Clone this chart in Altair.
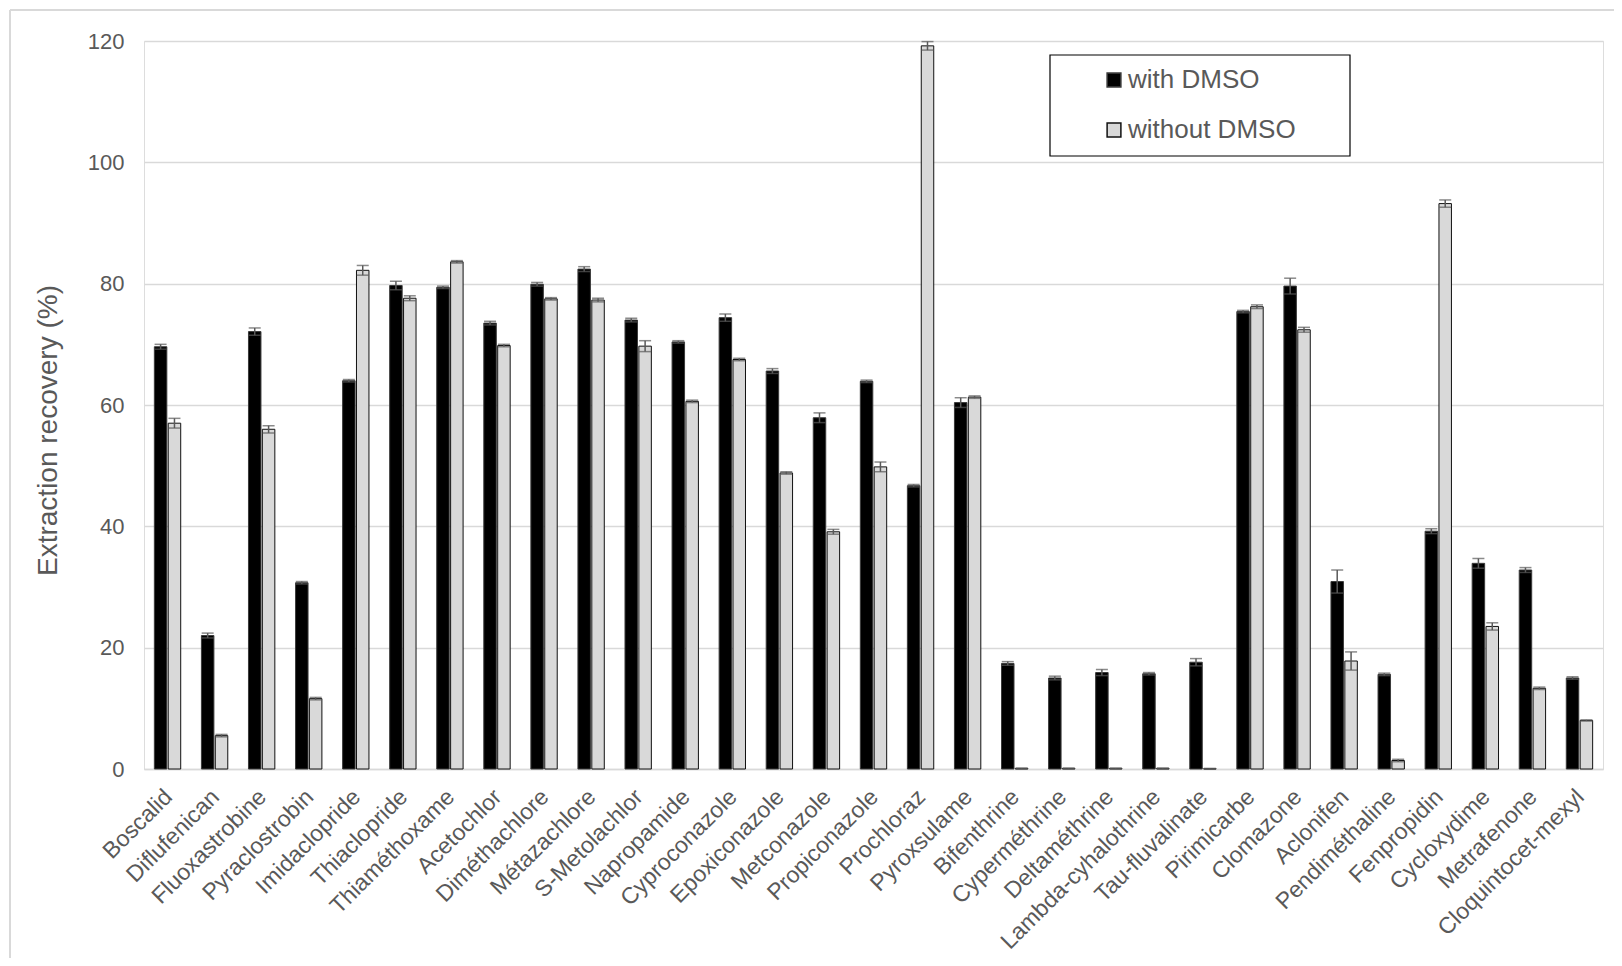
import altair as alt
import pandas as pd

categories = ["Boscalid", "Diflufenican", "Fluoxastrobine", "Pyraclostrobin", "Imidaclopride",
              "Thiaclopride", "Thiaméthoxame", "Acetochlor", "Diméthachlore", "Métazachlore",
              "S-Metolachlor", "Napropamide", "Cyproconazole", "Epoxiconazole", "Metconazole",
              "Propiconazole", "Prochloraz", "Pyroxsulame", "Bifenthrine", "Cyperméthrine",
              "Deltaméthrine", "Lambda-cyhalothrine", "Tau-fluvalinate", "Pirimicarbe", "Clomazone",
              "Aclonifen", "Pendiméthaline", "Fenpropidin", "Cycloxydime", "Metrafenone",
              "Cloquintocet-mexyl"]

with_dmso = [69.6, 22.0, 72.1, 30.7, 64.0, 79.7, 79.4, 73.5, 79.9, 82.4,
             74.0, 70.4, 74.4, 65.6, 57.9, 63.9, 46.7, 60.4, 17.4, 15.0,
             15.9, 15.7, 17.6, 75.4, 79.6, 30.9, 15.6, 39.2, 33.9, 32.8,
             15.0]
with_err = [0.4, 0.4, 0.6, 0.2, 0.2, 0.7, 0.2, 0.3, 0.3, 0.4,
            0.3, 0.2, 0.6, 0.4, 0.8, 0.2, 0.2, 0.8, 0.3, 0.3,
            0.5, 0.2, 0.6, 0.2, 1.3, 1.9, 0.2, 0.4, 0.8, 0.4,
            0.2]
without_dmso = [57.0, 5.5, 56.0, 11.6, 82.2, 77.6, 83.6, 69.8, 77.5, 77.3,
                69.7, 60.6, 67.5, 48.8, 39.1, 49.8, 119.2, 61.3, 0.1, 0.1,
                0.1, 0.1, 0.05, 76.2, 72.4, 17.8, 1.4, 93.2, 23.5, 13.3,
                8.0]
without_err = [0.8, 0.2, 0.6, 0.2, 0.8, 0.4, 0.2, 0.2, 0.2, 0.3,
               0.9, 0.2, 0.2, 0.2, 0.4, 0.8, 0.7, 0.2, 0.05, 0.05,
               0.05, 0.05, 0.05, 0.3, 0.4, 1.5, 0.2, 0.6, 0.6, 0.2,
               0.1]
series = ["with DMSO", "without DMSO"]
y_ticks = [0, 20, 40, 60, 80, 100, 120]

rows = []
for i, c in enumerate(categories):
    rows.append({"Compound": c, "Series": series[0], "Value": with_dmso[i], "Err": with_err[i]})
    rows.append({"Compound": c, "Series": series[1], "Value": without_dmso[i], "Err": without_err[i]})
df = pd.DataFrame(rows)
df["Lo"] = df["Value"] - df["Err"]
df["Hi"] = df["Value"] + df["Err"]

W = 1459
H = 728
FONT = "Liberation Sans"
GREY_TXT = "#595959"
Y_TITLE = "Extraction recovery (%)"

x_enc = alt.X("Compound:N", sort=categories,
              scale=alt.Scale(paddingInner=0.44, paddingOuter=0.22),
              axis=alt.Axis(title=None, labelAngle=-45, labelFontSize=23, labelColor=GREY_TXT,
                            labelAlign="right", labelBaseline="middle", labelPadding=24,
                            labelOffset=1, labelLimit=500, ticks=False, domainColor="#d9d9d9",
                            domainWidth=1.5, grid=False, labelFont=FONT))
xo_enc = alt.XOffset("Series:N", sort=series, scale=alt.Scale(paddingInner=0.1))
y_scale = alt.Scale(domain=[0, 120], nice=False)
y_axis = alt.Axis(values=y_ticks, title=Y_TITLE, titleFontSize=28,
                  titleFontWeight="normal", titleColor=GREY_TXT, titleFont=FONT,
                  titlePadding=25, titleY=389, labelFontSize=22, labelColor=GREY_TXT,
                  labelFont=FONT, labelPadding=20, ticks=False, domain=False,
                  gridColor="#d9d9d9", gridWidth=1.5)

legend = alt.Legend(title=None, orient="none", legendX=957, legendY=26, padding=0,
                    labelFontSize=26, labelColor=GREY_TXT, labelFont=FONT, labelLimit=600,
                    symbolType="square", symbolSize=190, symbolStrokeWidth=1.5,
                    rowPadding=24, labelOffset=1)

bars = alt.Chart(df).mark_bar(strokeWidth=1).encode(
    x=x_enc, xOffset=xo_enc,
    y=alt.Y("Value:Q", scale=y_scale, axis=y_axis, title=Y_TITLE),
    fill=alt.Fill("Series:N", scale=alt.Scale(domain=series, range=["#000000", "#d9d9d9"]),
                  legend=legend),
    stroke=alt.Stroke("Series:N", scale=alt.Scale(domain=series, range=["#3a3a3a", "#111111"]),
                      legend=legend),
)

rule = alt.Chart(df).mark_rule(color="#595959", strokeWidth=1.5).encode(
    x=x_enc, xOffset=xo_enc,
    y=alt.Y("Lo:Q", scale=y_scale, axis=y_axis, title=Y_TITLE), y2="Hi:Q")
cap_lo = alt.Chart(df).mark_tick(color="#595959", thickness=1.5, size=12).encode(
    x=x_enc, xOffset=xo_enc,
    y=alt.Y("Lo:Q", scale=y_scale, axis=y_axis, title=Y_TITLE))
cap_hi = alt.Chart(df).mark_tick(color="#595959", thickness=1.5, size=12).encode(
    x=x_enc, xOffset=xo_enc,
    y=alt.Y("Hi:Q", scale=y_scale, axis=y_axis, title=Y_TITLE))

dummy = pd.DataFrame({"d": [0]})
border_left = alt.Chart(dummy).mark_rule(color="#d9d9d9", strokeWidth=2).encode(
    x=alt.value(-134), y=alt.value(-31), y2=alt.value(H + 220))
border_top = alt.Chart(dummy).mark_rule(color="#d9d9d9", strokeWidth=2).encode(
    x=alt.value(-134), x2=alt.value(W + 40), y=alt.value(-31))
legend_box = alt.Chart(dummy).mark_rect(fill="white", stroke="#000000", strokeWidth=1.2).encode(
    x=alt.value(906), x2=alt.value(1206), y=alt.value(14), y2=alt.value(115))

chart = alt.layer(border_left, border_top, bars, rule, cap_lo, cap_hi, legend_box).properties(
    width=W, height=H,
    autosize=alt.AutoSizeParams(type="none"),
    padding={"left": 136, "top": 33, "right": 11, "bottom": 189},
    background="white",
).configure_view(strokeWidth=0, stroke="transparent").configure(font=FONT)

chart.save("out.html", embed_options={"renderer": "svg", "actions": False})
